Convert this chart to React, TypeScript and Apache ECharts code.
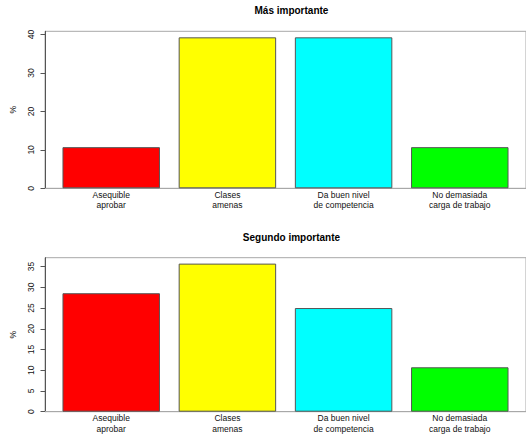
import React, { useEffect, useRef } from "react";
import * as echarts from "echarts";

const categories = ["Asequible\naprobar", "Clases\namenas", "Da buen nivel\nde competencia", "No demasiada\ncarga de trabajo"];
const barColors = ["#ff0000", "#ffff00", "#00ffff", "#00ff00"];
const masImportante = [10.71, 39.29, 39.29, 10.71];
const segundoImportante = [28.57, 35.71, 25.0, 10.71];
const ticksTop = [0, 10, 20, 30, 40];
const ticksBottom = [0, 5, 10, 15, 20, 25, 30, 35];
const titleTop = "Más importante";
const titleBottom = "Segundo importante";
const yName = "%";

const W = 526;
const H = 434;
const GRID_LEFT = 44.3;
const GRID_RIGHT = -2.6;
const SPACE = 0.2;
const FONT = "'Liberation Sans', Arial, Helvetica, sans-serif";

export default function App() {
  const ref = useRef<HTMLDivElement>(null);
  useEffect(() => {
    if (!ref.current) return;
    const chart = echarts.init(ref.current, null, { renderer: "svg" });
    const n = categories.length;
    const barW = 1 / (1 + SPACE);
    const range = n - 1 + barW;
    const xMin = -barW / 2 - 0.04 * range;
    const xMax = n - 1 + barW / 2 + 0.04 * range;
    const gridWidth = W - GRID_LEFT - GRID_RIGHT;
    const barPx = (gridWidth * barW) / (xMax - xMin);

    const grids = [
      { top: 31.3, height: 157 },
      { top: 257.7, height: 157 },
    ];
    const datasets = [masImportante, segundoImportante];
    const ticks = [ticksTop, ticksBottom];

    const option: any = {
      animation: false,
      backgroundColor: "#ffffff",
      textStyle: { fontFamily: FONT },
      title: [titleTop, titleBottom].map((t, i) => ({
        text: t,
        left: GRID_LEFT + gridWidth / 2,
        textAlign: "center",
        top: grids[i].top - 30.5,
        textStyle: { fontFamily: FONT, fontSize: 10, fontWeight: "bold", color: "#000" },
      })),
      grid: grids.map((g) => ({
        left: GRID_LEFT,
        right: GRID_RIGHT,
        top: g.top,
        height: g.height,
        show: true,
        borderColor: "#a8a8a8",
        borderWidth: 1,
        backgroundColor: "transparent",
        containLabel: false,
      })),
      xAxis: grids.map((_, i) => ({
        type: "value",
        gridIndex: i,
        min: xMin,
        max: xMax,
        axisLine: { show: true, onZero: false, lineStyle: { color: "#a8a8a8", width: 1 } },
        axisTick: { show: false },
        splitLine: { show: false },
        axisLabel: {
          customValues: categories.map((_, k) => k),
          formatter: (v: number) => categories[Math.round(v)] ?? "",
          fontFamily: FONT,
          fontSize: 8.5,
          lineHeight: 10.5,
          color: "#111",
          margin: 1.3,
        },
      })),
      yAxis: grids.map((_, i) => ({
        type: "value",
        gridIndex: i,
        min: 0,
        max: Math.max(...datasets[i]) * 1.04,
        name: yName,
        nameLocation: "middle",
        nameRotate: 90,
        nameGap: 28,
        nameTextStyle: { fontFamily: FONT, fontSize: 8.5, color: "#111" },
        axisLine: { show: true, onZero: false, lineStyle: { color: "#555", width: 1 } },
        axisTick: { show: true, length: 4.5, customValues: ticks[i], lineStyle: { color: "#555" } },
        splitLine: { show: false },
        axisLabel: {
          customValues: ticks[i],
          rotate: 90,
          fontFamily: FONT,
          fontSize: 8.5,
          color: "#111",
          margin: 9.5,
        },
      })),
      series: datasets.map((d, i) => ({
        type: "bar",
        xAxisIndex: i,
        yAxisIndex: i,
        barWidth: barPx,
        data: d.map((v, k) => ({
          value: [k, v],
          itemStyle: { color: barColors[k], borderColor: "#555", borderWidth: 1 },
        })),
      })),
    };
    chart.setOption(option);
    return () => chart.dispose();
  }, []);
  return <div ref={ref} style={{ width: W, height: H, position: "absolute", left: 0, top: 0 }} />;
}
